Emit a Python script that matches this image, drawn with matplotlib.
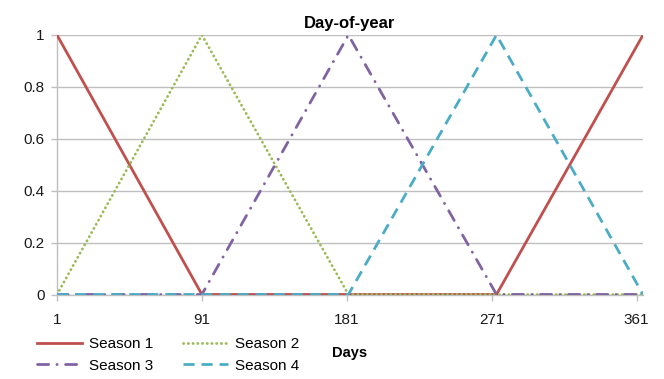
import matplotlib.pyplot as plt
from matplotlib.lines import Line2D

plt.rcParams["font.family"] = ["Liberation Sans", "DejaVu Sans"]

# Seasonal membership breakpoints (day of year -> weight)
season1_days = [1, 91, 274, 365]
season1_vals = [1, 0, 0, 1]

season2_days = [1, 91, 182, 365]
season2_vals = [0, 1, 0, 0]

season3_days = [1, 91, 182, 274, 365]
season3_vals = [0, 0, 1, 0, 0]

season4_days = [1, 182, 274, 365]
season4_vals = [0, 0, 1, 0]

x_ticks = [1, 91, 181, 271, 361]
y_ticks = [0, 0.2, 0.4, 0.6, 0.8, 1]
y_tick_labels = ["0", "0.2", "0.4", "0.6", "0.8", "1"]

red = "#C0504D"
green = "#9BBB59"
purple = "#8064A2"
cyan = "#4BACC6"
grid_grey = "#BFBFBF"

fig = plt.figure(figsize=(6.64, 3.79), dpi=100)
ax = fig.add_axes([57 / 664, 1 - 294.5 / 379, 586 / 664, 259.5 / 379])

lw = 2.0
ax.plot(season1_days, season1_vals, color=red, lw=lw, solid_capstyle="butt",
        label="Season 1", zorder=3)
ax.plot(season2_days, season2_vals, color=green, lw=lw,
        linestyle=(0, (0.1, 1.6)), dash_capstyle="round",
        label="Season 2", zorder=4)
ax.plot(season3_days, season3_vals, color=purple, lw=lw,
        linestyle=(0, (4, 3, 0.1, 3)), dash_capstyle="round",
        label="Season 3", zorder=5)
ax.plot(season4_days, season4_vals, color=cyan, lw=lw,
        linestyle=(0, (4, 2.5)), dash_capstyle="butt",
        label="Season 4", zorder=6)

ax.set_xlim(1, 365)
ax.set_ylim(0, 1)
ax.set_xticks(x_ticks)
ax.set_yticks(y_ticks)
ax.set_yticklabels(y_tick_labels)

ax.yaxis.grid(True, color=grid_grey, lw=1)
ax.set_axisbelow(True)

for side in ["top", "right"]:
    ax.spines[side].set_visible(False)
for side in ["left", "bottom"]:
    ax.spines[side].set_color(grid_grey)
    ax.spines[side].set_linewidth(1)

ax.tick_params(axis="both", colors=grid_grey, labelcolor="#1a1a1a",
               labelsize=11, length=4, width=1)
ax.tick_params(axis="x", pad=9)
ax.tick_params(axis="y", pad=5)

ax.set_title("Day-of-year", fontsize=12, fontweight="bold", pad=5)
fig.text(350 / 664, 1 - 353 / 379, "Days", fontsize=10.5, fontweight="bold",
         ha="center", va="center")

handles = [
    Line2D([], [], color=red, lw=lw),
    Line2D([], [], color=purple, lw=lw, linestyle=(0, (4, 3, 0.1, 3)),
           dash_capstyle="round"),
    Line2D([], [], color=green, lw=lw, linestyle=(0, (0.1, 1.6)),
           dash_capstyle="round"),
    Line2D([], [], color=cyan, lw=lw, linestyle=(0, (4, 2.5))),
]
labels = ["Season 1", "Season 3", "Season 2", "Season 4"]
fig.legend(handles, labels, ncol=2, loc="center left",
           bbox_to_anchor=(29 / 664, 1 - 355 / 379), frameon=False,
           fontsize=11, handlelength=3.0, handletextpad=0.45,
           columnspacing=1.9, labelspacing=0.5, borderpad=0)

fig.savefig("out.png", dpi=100)
